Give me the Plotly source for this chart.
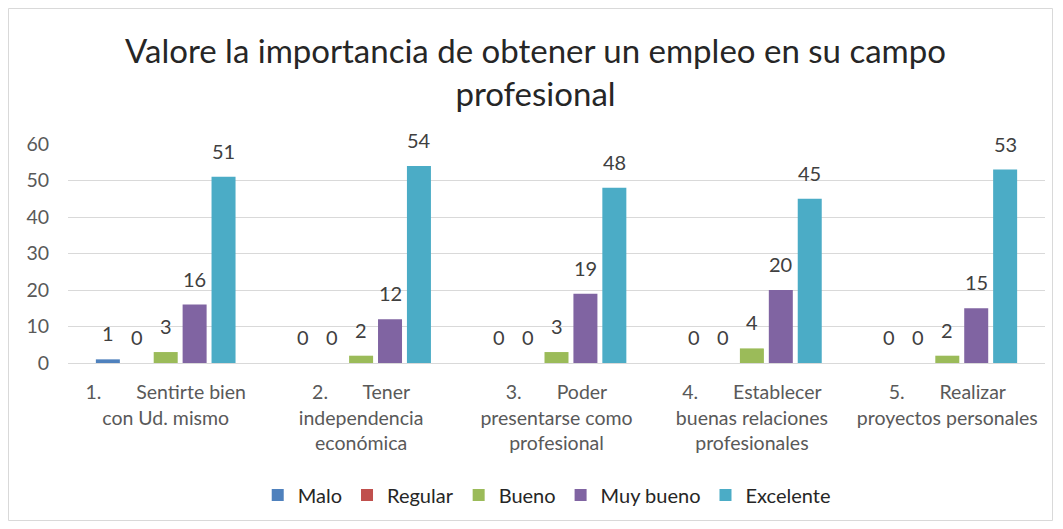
import plotly.graph_objects as go

categories = [
    "1.       Sentirte bien<br>con Ud. mismo",
    "2.       Tener<br>independencia<br>económica",
    "3.       Poder<br>presentarse como<br>profesional",
    "4.       Establecer<br>buenas relaciones<br>profesionales",
    "5.       Realizar<br>proyectos personales",
]
series_names = ["Malo", "Regular", "Bueno", "Muy bueno", "Excelente"]
malo = [1, 0, 0, 0, 0]
regular = [0, 0, 0, 0, 0]
bueno = [3, 2, 3, 4, 2]
muy_bueno = [16, 12, 19, 20, 15]
excelente = [51, 54, 48, 45, 53]
colors = ["#4F81BD", "#C0504D", "#9BBB59", "#8064A2", "#4BACC6"]

# page body has an 8px margin; figure is sized so it fills the 1063x529 window
OFF = 8
W, H = 1063 - OFF, 529 - OFF
L, R, T, B = 60, 18, 136, 166
pw, ph = W - L - R, H - T - B
BARGAP, GROUPGAP = 0.26, 0.17
FONT = "Lato"

all_series = [malo, regular, bueno, muy_bueno, excelente]
fig = go.Figure()
for name, vals, c in zip(series_names, all_series, colors):
    fig.add_trace(go.Bar(
        name=name, x=categories, y=vals, marker_color=c, marker_line_width=0,
        hoverinfo="x+y+name",
    ))

# data labels placed above each bar of the group
ncat, nser = len(categories), len(series_names)
slot = pw / ncat * (1 - BARGAP) / nser
annotations = []
for i, vals in enumerate(all_series):
    for cat, v in zip(categories, vals):
        annotations.append(dict(
            x=cat, y=v, xref="x", yref="y", text=str(v), showarrow=False,
            xshift=(i - (nser - 1) / 2) * slot, yshift=12, yanchor="bottom",
            font=dict(size=20, color="#404040", family=FONT),
        ))

def px_x(p):
    return (p - L) / pw
def px_y(p):
    return (H - B - p) / ph

fig.update_layout(
    width=W, height=H,
    margin=dict(l=L, r=R, t=T, b=B),
    paper_bgcolor="white", plot_bgcolor="white",
    barmode="group", bargap=BARGAP, bargroupgap=GROUPGAP,
    font=dict(family=FONT, color="#595959", size=19),
    title=dict(
        text="Valore la importancia de obtener un empleo en su campo<br>profesional",
        x=0.5, xanchor="center", y=1 - 55 / H, yanchor="top",
        font=dict(size=33, color="#262626", family=FONT),
    ),
    xaxis=dict(showgrid=False, showline=True, linecolor="#D9D9D9", ticks="",
               ticklabelstandoff=12,
               tickfont=dict(size=19.5, color="#595959")),
    yaxis=dict(range=[0, 60], dtick=10, showgrid=True, gridcolor="#D9D9D9",
               zeroline=False, showline=False, ticks="", ticklabelstandoff=18,
               tickfont=dict(size=19.5, color="#595959")),
    legend=dict(orientation="h", x=0.49, xanchor="center", y=px_y(487), yanchor="middle",
                font=dict(size=20, color="#262626"), itemwidth=30, traceorder="normal"),
    showlegend=True,
    annotations=annotations,
    shapes=[dict(type="rect", xref="paper", yref="paper",
                 x0=px_x(0.5), x1=px_x(1044.5), y0=px_y(512.5), y1=px_y(0.5),
                 line=dict(color="#D9D9D9", width=1), fillcolor="rgba(0,0,0,0)", layer="below")],
)

fig.write_html("out.html")
